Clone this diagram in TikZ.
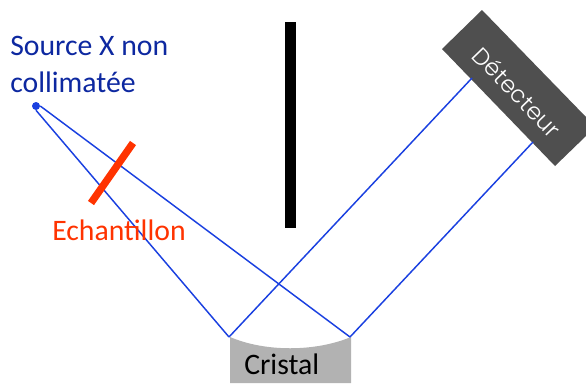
\documentclass[tikz,border=0pt]{standalone}
\usepackage{fontspec}
\setmainfont{Carlito}
\newfontfamily\detfont{Poppins Light}
\definecolor{rayblue}{RGB}{26,64,224}
\definecolor{srcblue}{RGB}{13,40,160}
\definecolor{echred}{RGB}{255,51,0}
\definecolor{cristalgray}{RGB}{178,178,178}
\definecolor{detgray}{RGB}{79,79,79}
\tikzset{
  ray/.style={draw=rayblue,line width=1.1pt},
  lbl/.style={anchor=base west,inner sep=0pt,align=left,font=\fontsize{22.3}{27.7}\selectfont},
}
\begin{document}
\begin{tikzpicture}[x=0.75pt,y=0.75pt,yscale=-1,xscale=1]
\useasboundingbox (0,0) rectangle (586,383);

%Shape: Cristal
\fill [cristalgray] (230,337) .. controls (265,352) and (315,352) .. (351,337) -- (351,383) -- (230,383) -- cycle ;
%Shape: Detecteur
\fill [detgray] (482,10) -- (586,117) -- (586,136) -- (555,166) -- (442,49) -- cycle ;
%Shape: Ecran
\fill [black] (285,22) rectangle (296,228);

% Named points
\coordinate (cristalL) at (229,337);
\coordinate (cristalR) at (350,337);
\coordinate (detL) at (472,78);
\coordinate (detR) at (533,142);
\coordinate (echA) at (133,143);
\coordinate (echB) at (91,203);

% Source
\node (source) [circle,fill=rayblue,inner sep=0pt,minimum size=6pt] at (36,106) {};

%Straight Lines
\draw [ray] (source.east) -- (cristalR) ;
\draw [ray] (source.south) -- (cristalL) ;
\draw [ray] (cristalL) -- (detL) ;
\draw [ray] (cristalR) -- (detR) ;
%Straight Lines
\draw [echred,line width=5.5pt] (echA) -- (echB) ;

% Text Node
\node (sourcelabel) [lbl,text=srcblue] at (10,55) {Source X non};
\node (sourcelabelb) [lbl,text=srcblue] at (10,92) {collimatée};
% Text Node
\node (echlabel) [lbl,text=echred] at (52,240) {Echantillon};
% Text Node
\node (cristallabel) [lbl,text=black] at (244,374) {Cristal};
% Text Node
\node (detlabel) [text=white,rotate=-46,inner sep=0pt,font=\detfont\fontsize{17.5}{20}\selectfont] at (517,92) {Détecteur};

\end{tikzpicture}
\end{document}
